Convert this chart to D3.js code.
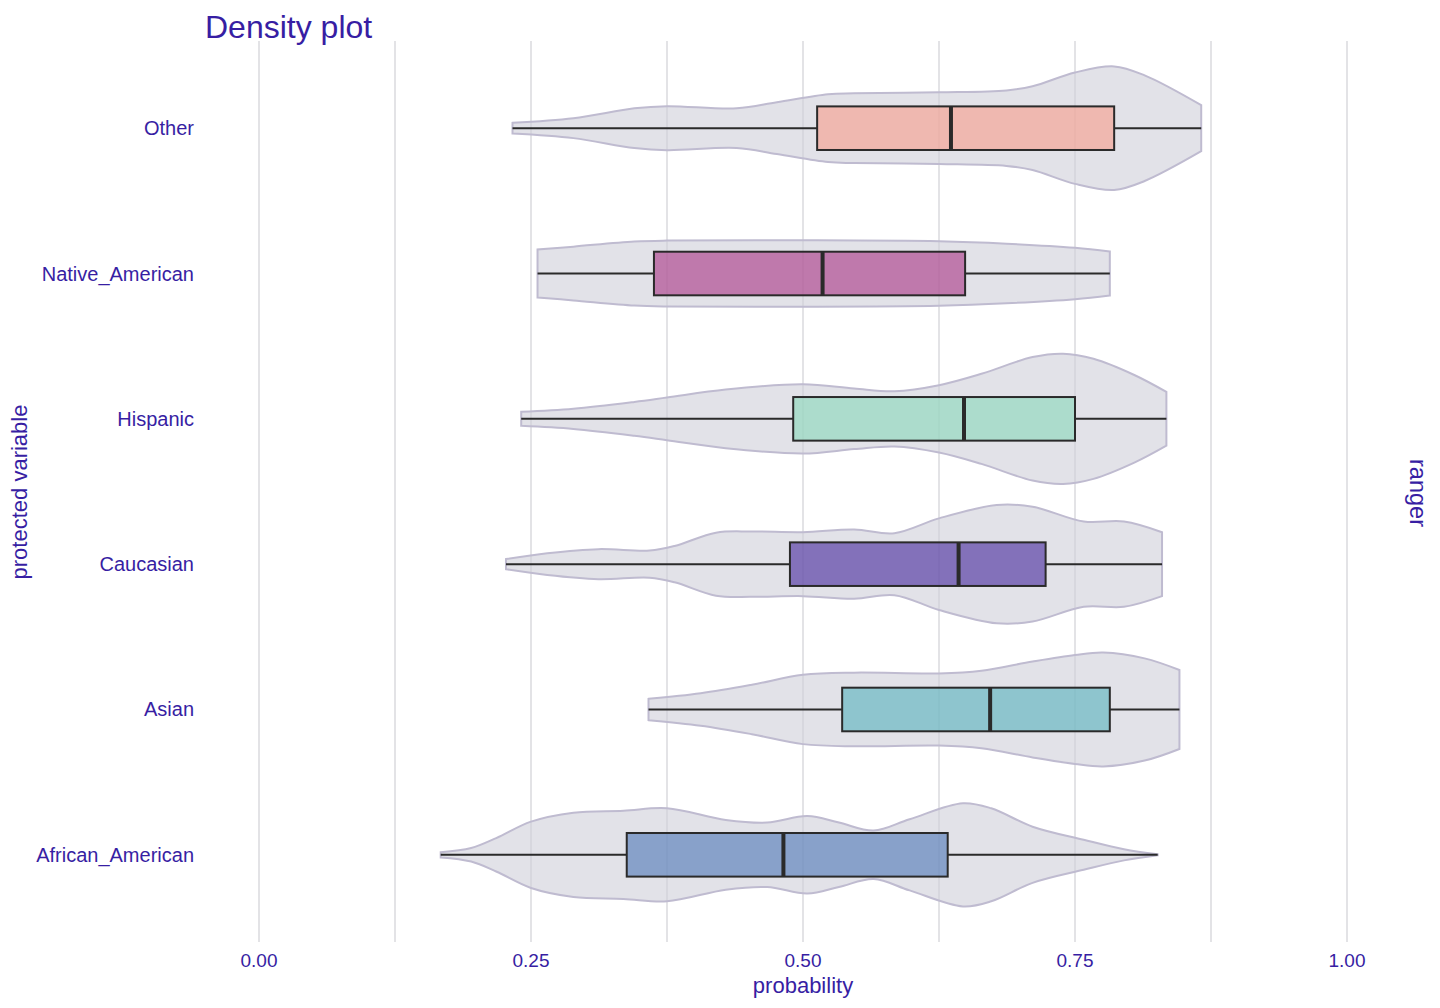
<!DOCTYPE html>
<html>
<head>
<meta charset="utf-8">
<script src="https://cdn.jsdelivr.net/npm/d3@7"></script>
<style>
  body { margin: 0; background: #fff; }
  text { font-family: "Liberation Sans", Arial, sans-serif; fill: #371ea3; }
</style>
</head>
<body>
<svg id="chart" width="1440" height="1008"></svg>
<script>
// groups, bottom to top
const categories = ["African_American", "Asian", "Caucasian", "Hispanic", "Native_American", "Other"];

// box stats per group (same order as categories)
const whiskerLow  = [0.167, 0.358, 0.227, 0.241, 0.256, 0.233];
const q1          = [0.338, 0.536, 0.488, 0.491, 0.363, 0.513];
const median      = [0.482, 0.672, 0.643, 0.648, 0.518, 0.636];
const q3          = [0.633, 0.782, 0.723, 0.750, 0.649, 0.786];
const whiskerHigh = [0.826, 0.846, 0.830, 0.834, 0.782, 0.866];

// estimated density of the probabilities, [probability, density]
const densAfricanAmerican = [[0.167,0.11],[0.195,0.28],[0.218,0.69],[0.25,1.37],[0.289,1.74],[0.335,1.82],[0.375,1.92],
  [0.429,1.44],[0.467,1.33],[0.504,1.60],[0.533,1.33],[0.565,1.00],[0.598,1.47],[0.647,2.13],[0.673,1.92],
  [0.711,1.16],[0.758,0.62],[0.795,0.23],[0.826,0.02]];
const densAsian = [[0.358,0.44],[0.406,0.67],[0.453,1.02],[0.500,1.43],[0.547,1.52],[0.625,1.49],[0.664,1.60],
  [0.711,1.98],[0.750,2.25],[0.776,2.35],[0.814,2.11],[0.846,1.63]];
const densCaucasian = [[0.227,0.21],[0.265,0.45],[0.312,0.62],[0.359,0.56],[0.382,0.75],[0.420,1.30],[0.453,1.35],
  [0.500,1.32],[0.547,1.43],[0.584,1.28],[0.625,1.89],[0.678,2.44],[0.711,2.37],[0.758,1.76],[0.795,1.76],[0.830,1.32]];
const densHispanic = [[0.241,0.29],[0.289,0.42],[0.345,0.70],[0.375,0.88],[0.429,1.21],[0.500,1.43],[0.547,1.25],
  [0.584,1.14],[0.625,1.39],[0.664,1.86],[0.711,2.55],[0.739,2.69],[0.767,2.48],[0.805,1.80],[0.834,1.11]];
const densNativeAmerican = [[0.256,0.99],[0.289,1.11],[0.345,1.32],[0.375,1.36],[0.500,1.37],[0.625,1.33],
  [0.687,1.23],[0.750,1.06],[0.782,0.91]];
const densOther = [[0.233,0.22],[0.289,0.41],[0.345,0.82],[0.375,0.91],[0.439,0.82],[0.476,1.07],[0.523,1.40],
  [0.547,1.44],[0.625,1.48],[0.687,1.56],[0.711,1.73],[0.750,2.30],[0.786,2.55],[0.814,2.18],[0.866,0.95]];
const densities = [densAfricanAmerican, densAsian, densCaucasian, densHispanic, densNativeAmerican, densOther];

const boxColors = ["#4c76b6", "#56b3bd", "#44269b", "#88d8b9", "#a83384", "#f89c8b"];

const xTicks = [0, 0.25, 0.5, 0.75, 1];
const xGrid = [0, 0.125, 0.25, 0.375, 0.5, 0.625, 0.75, 0.875, 1];

const svg = d3.select("#chart");
const panel = { left: 259, right: 1347, top: 41, bottom: 942 };

const x = d3.scaleLinear().domain([0, 1]).range([panel.left, panel.right]);
const y = d3.scalePoint().domain(categories).range([panel.bottom, panel.top]).padding(0.6);
const w = d3.scaleLinear().domain([0, 3]).range([0, y.step() * 0.5]);
const boxH = y.step() * 0.15;

// grid
svg.append("g").selectAll("line").data(xGrid).join("line")
  .attr("x1", d => x(d)).attr("x2", d => x(d))
  .attr("y1", panel.top).attr("y2", panel.bottom)
  .attr("stroke", "#dcdce0").attr("stroke-width", 1.6);

// violins
const groups = svg.append("g").selectAll("g").data(categories).join("g")
  .attr("transform", d => `translate(0,${y(d)})`);

groups.append("path")
  .attr("d", (d, i) => d3.area()
      .x(p => x(p[0]))
      .y0(p => -w(p[1]))
      .y1(p => w(p[1]))
      .curve(d3.curveCatmullRom.alpha(0.5))(densities[i]) + "Z")
  .attr("fill", "#ceced9").attr("fill-opacity", 0.6)
  .attr("stroke", "#bfbbd0").attr("stroke-width", 2);

// whiskers
groups.append("line")
  .attr("x1", (d, i) => x(whiskerLow[i])).attr("x2", (d, i) => x(q1[i]))
  .attr("stroke", "#2a2a2a").attr("stroke-width", 2);
groups.append("line")
  .attr("x1", (d, i) => x(q3[i])).attr("x2", (d, i) => x(whiskerHigh[i]))
  .attr("stroke", "#2a2a2a").attr("stroke-width", 2);

// boxes
groups.append("rect")
  .attr("x", (d, i) => x(q1[i]))
  .attr("width", (d, i) => x(q3[i]) - x(q1[i]))
  .attr("y", -boxH).attr("height", boxH * 2)
  .attr("fill", (d, i) => boxColors[i]).attr("fill-opacity", 0.6)
  .attr("stroke", "#2a2a2a").attr("stroke-width", 2);

groups.append("line")
  .attr("x1", (d, i) => x(median[i])).attr("x2", (d, i) => x(median[i]))
  .attr("y1", -boxH).attr("y2", boxH)
  .attr("stroke", "#2a2a2a").attr("stroke-width", 4);

// axis labels
svg.append("g").selectAll("text").data(xTicks).join("text")
  .attr("x", d => x(d)).attr("y", 967)
  .attr("text-anchor", "middle").attr("font-size", 19)
  .text(d => d3.format(".2f")(d));

svg.append("g").selectAll("text").data(categories).join("text")
  .attr("x", 194).attr("y", d => y(d)).attr("dy", "0.35em")
  .attr("text-anchor", "end").attr("font-size", 20)
  .text(d => d);

svg.append("text").attr("x", (panel.left + panel.right) / 2).attr("y", 993)
  .attr("text-anchor", "middle").attr("font-size", 22).text("probability");

svg.append("text").attr("transform", "translate(27,492) rotate(-90)")
  .attr("text-anchor", "middle").attr("font-size", 22).text("protected variable");

svg.append("text").attr("transform", "translate(1410,493) rotate(90)")
  .attr("text-anchor", "middle").attr("font-size", 23.5).text("ranger");

svg.append("text").attr("x", 205).attr("y", 38)
  .attr("font-size", 32).text("Density plot");
</script>
</body>
</html>
